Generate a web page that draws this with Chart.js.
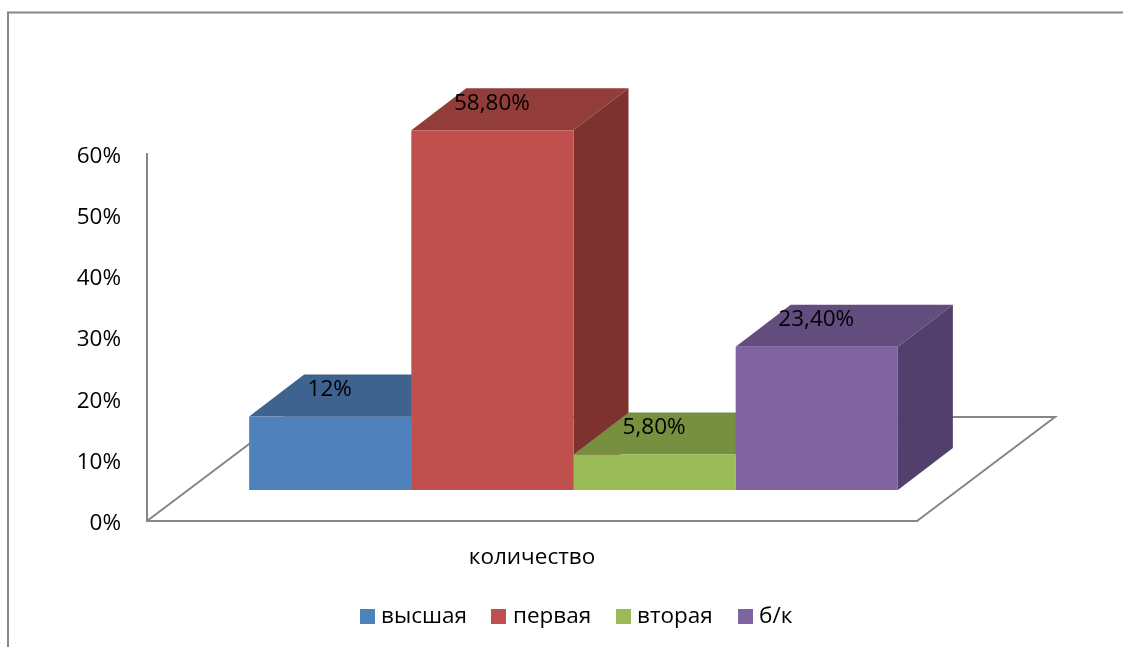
<!DOCTYPE html>
<html>
<head>
<meta charset="utf-8">
<style>html,body{margin:0;padding:0;background:#fff}canvas{display:block}</style>
<script src="https://cdn.jsdelivr.net/npm/chart.js@4"></script>
</head>
<body>
<canvas id="c" width="1123" height="647"></canvas>
<script>
const categories = ['количество'];
const seriesNames = ['высшая', 'первая', 'вторая', 'б/к'];
const seriesValues = [12, 58.8, 5.8, 23.4];
const valueLabels = ['12%', '58,80%', '5,80%', '23,40%'];
const frontColors = ['#4F81BD', '#C0504D', '#9BBB59', '#8064A2'];
const topColors = ['#3E638F', '#933D3B', '#779040', '#634D7F'];
const sideColors = ['#355579', '#7D3230', '#657A36', '#533F6B'];

const FONT = '"Open Sans", sans-serif';
const FONT_SIZE = 22.5;
const LINE = '#868686';
const shift = {x: 41.5, y: -31};
const depth = {x: 55, y: -42};
const floorDepth = {x: 138, y: -104};
const legendItems = [[360, 381], [491, 513], [616, 637], [738, 759]];

const threeD = {
  id: 'threeD',
  beforeDatasetsDraw(chart) {
    const ctx = chart.ctx, a = chart.chartArea;
    ctx.save();
    ctx.strokeStyle = LINE; ctx.lineWidth = 2;
    ctx.beginPath(); ctx.moveTo(8, 647); ctx.lineTo(8, 12.5); ctx.lineTo(1123, 12.5); ctx.stroke();
    ctx.lineWidth = 2;
    ctx.beginPath();
    ctx.moveTo(a.left, a.bottom);
    ctx.lineTo(a.left + floorDepth.x, a.bottom + floorDepth.y);
    ctx.lineTo(a.right + floorDepth.x, a.bottom + floorDepth.y);
    ctx.lineTo(a.right, a.bottom);
    ctx.stroke();
    ctx.translate(shift.x, shift.y);
    chart.data.datasets.forEach((ds, i) => {
      const el = chart.getDatasetMeta(i).data[0];
      const l = el.x - el.width / 2, r = el.x + el.width / 2, t = el.y, b = el.base;
      ctx.fillStyle = topColors[i];
      ctx.beginPath();
      ctx.moveTo(l, t); ctx.lineTo(l + depth.x, t + depth.y);
      ctx.lineTo(r + depth.x, t + depth.y); ctx.lineTo(r, t);
      ctx.closePath(); ctx.fill();
      ctx.fillStyle = sideColors[i];
      ctx.beginPath();
      ctx.moveTo(r, t); ctx.lineTo(r + depth.x, t + depth.y);
      ctx.lineTo(r + depth.x, b + depth.y); ctx.lineTo(r, b);
      ctx.closePath(); ctx.fill();
    });
    ctx.restore();
    ctx.save();
    ctx.translate(shift.x, shift.y);
  },
  afterDatasetsDraw(chart) {
    const ctx = chart.ctx;
    ctx.restore();
    ctx.save();
    ctx.font = FONT_SIZE + 'px ' + FONT;
    ctx.fillStyle = '#000';
    ctx.textAlign = 'center';
    ctx.textBaseline = 'middle';
    chart.data.datasets.forEach((ds, i) => {
      const el = chart.getDatasetMeta(i).data[0];
      ctx.fillText(valueLabels[i], el.x + shift.x - 0.5, el.y + shift.y - 27);
    });
    ctx.textAlign = 'left';
    chart.data.datasets.forEach((ds, i) => {
      const [bx, tx] = legendItems[i];
      ctx.fillStyle = ds.backgroundColor;
      ctx.fillRect(bx, 609, 15, 15);
      ctx.fillStyle = '#000';
      ctx.fillText(ds.label, tx, 617);
    });
    ctx.restore();
  }
};

new Chart(document.getElementById('c'), {
  type: 'bar',
  data: {
    labels: categories,
    datasets: seriesNames.map((n, i) => ({
      label: n,
      data: [seriesValues[i]],
      backgroundColor: frontColors[i],
      borderWidth: 0,
      clip: false
    }))
  },
  options: {
    responsive: false,
    animation: false,
    devicePixelRatio: 1,
    layout: {padding: {left: 47, right: 206, top: 154, bottom: 46}},
    datasets: {bar: {categoryPercentage: 0.8425, barPercentage: 1}},
    plugins: {legend: {display: false}, tooltip: {enabled: false}},
    scales: {
      x: {
        grid: {display: false, drawTicks: false},
        border: {display: true, color: LINE, width: 2},
        ticks: {color: '#000', font: {size: FONT_SIZE, family: FONT}, padding: 23, maxRotation: 0},
        afterFit: s => { s.height = 80; }
      },
      y: {
        min: 0, max: 60,
        grid: {display: false, drawTicks: false},
        border: {display: true, color: LINE, width: 2},
        ticks: {color: '#000', font: {size: FONT_SIZE, family: FONT}, stepSize: 10, padding: 26, labelOffset: 2.5, callback: v => v + '%'},
        afterFit: s => { s.width = 100; }
      }
    }
  },
  plugins: [threeD]
});
</script>
</body>
</html>
